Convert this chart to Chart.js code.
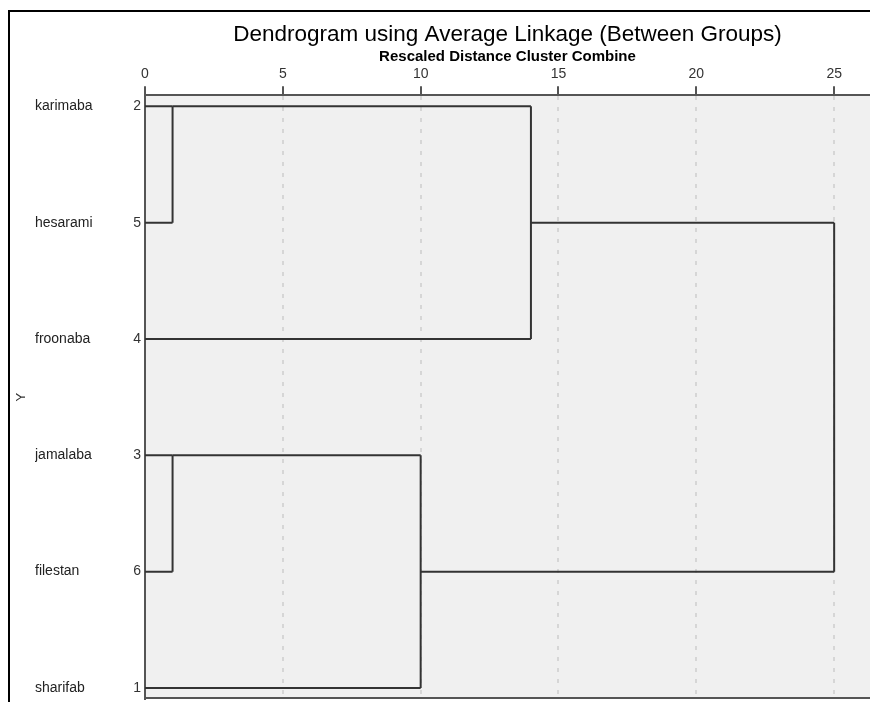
<!DOCTYPE html>
<html><head><meta charset="utf-8">
<script src="https://cdn.jsdelivr.net/npm/chart.js@4/dist/chart.umd.min.js"></script>
<style>html,body{margin:0;padding:0;background:#fff;} canvas{display:block;}</style>
</head><body>
<canvas id="c" width="870" height="702"></canvas>
<script>
// Leaves in dendrogram order (top to bottom)
const caseNames = ['karimaba', 'hesarami', 'froonaba', 'jamalaba', 'filestan', 'sharifab'];
const caseNumbers = ['2', '5', '4', '3', '6', '1'];
// Agglomeration steps: clusters 0..5 are leaves, step k creates cluster 6+k
const mergeA = [0, 3, 6, 7, 8];
const mergeB = [1, 4, 2, 5, 9];
const mergeDist = [1, 1, 14, 10, 25];
const xTickValues = [0, 5, 10, 15, 20, 25];

const titleText = 'Dendrogram using Average Linkage (Between Groups)';
const subtitleText = 'Rescaled Distance Cluster Combine';
const yTitleText = 'Y';

// build node info
const nodes = caseNames.map((n, i) => ({members: [i], h: 0}));
mergeA.forEach((a, k) => {
  const b = mergeB[k];
  nodes.push({members: nodes[a].members.concat(nodes[b].members), h: mergeDist[k]});
});
const rowOf = (id) => {
  const m = nodes[id].members;
  return Math.floor(m.reduce((s, v) => s + v, 0) / m.length);
};
const segments = [];
mergeA.forEach((a, k) => {
  const b = mergeB[k];
  const d = mergeDist[k];
  const ra = rowOf(a), rb = rowOf(b);
  segments.push([{x: nodes[a].h, y: ra}, {x: d, y: ra}]);
  segments.push([{x: nodes[b].h, y: rb}, {x: d, y: rb}]);
  segments.push([{x: d, y: ra}, {x: d, y: rb}]);
});

const datasets = segments.map(seg => ({
  data: seg, showLine: true, borderColor: '#333333', borderWidth: 2,
  pointRadius: 0, pointHoverRadius: 0, fill: false, tension: 0
}));

const FONT = "'Liberation Sans', Arial, sans-serif";
const rowTicks = caseNames.map((n, i) => ({value: i}));
const noPad = (s) => { s.paddingTop = 0; s.paddingBottom = 0; s.paddingLeft = 0; s.paddingRight = 0; };

const framePlugin = {
  id: 'frame',
  beforeDraw(chart) {
    const {ctx, chartArea: a} = chart;
    ctx.save();
    ctx.fillStyle = '#ffffff';
    ctx.fillRect(0, 0, chart.width, chart.height);
    ctx.fillStyle = '#f0f0f0';
    ctx.fillRect(a.left, a.top, a.right - a.left, a.bottom - a.top);
    ctx.restore();
  },
  afterDraw(chart) {
    const {ctx, chartArea: a} = chart;
    ctx.save();
    ctx.strokeStyle = '#000';
    ctx.lineWidth = 2;
    ctx.beginPath();
    ctx.moveTo(9, chart.height);
    ctx.lineTo(9, 11);
    ctx.lineTo(chart.width, 11);
    ctx.stroke();
    ctx.strokeStyle = '#555';
    ctx.lineWidth = 2;
    ctx.beginPath();
    ctx.moveTo(a.left, a.bottom - 1);
    ctx.lineTo(a.right, a.bottom - 1);
    ctx.stroke();
    ctx.restore();
  }
};

new Chart(document.getElementById('c'), {
  type: 'scatter',
  data: {datasets},
  plugins: [framePlugin],
  options: {
    responsive: false,
    animation: false,
    devicePixelRatio: 1,
    layout: {padding: {top: 11, left: 10, right: 0, bottom: 3}},
    plugins: {
      legend: {display: false},
      tooltip: {enabled: false},
      title: {
        display: true, text: titleText, fullSize: false, color: '#000',
        font: {family: FONT, size: 22.5, weight: 'normal', lineHeight: 1.2},
        padding: {top: 10, bottom: 0}
      },
      subtitle: {
        display: true, text: subtitleText, fullSize: false, color: '#000',
        font: {family: FONT, size: 15, weight: 'bold', lineHeight: 1.1},
        padding: {top: 1, bottom: 0}
      }
    },
    scales: {
      x: {
        type: 'linear', position: 'top', min: 0, max: 26.3,
        afterBuildTicks: (s) => { s.ticks = xTickValues.map(v => ({value: v})); },
        afterFit: (s) => { s.height = 29.8; noPad(s); },
        ticks: {color: '#333', font: {family: FONT, size: 14}, padding: 4, maxRotation: 0},
        grid: {
          color: (c) => (c.tick && c.tick.value === 0) ? 'rgba(0,0,0,0)' : '#d6d6d6',
          lineWidth: 2, drawTicks: true, tickLength: 9,
          tickColor: '#555', tickWidth: 2, tickBorderDash: []
        },
        border: {display: true, color: '#555', width: 2, dash: [4, 7]}
      },
      y: {
        type: 'linear', position: 'left', reverse: true, min: -0.095, max: 5.095, weight: 0,
        afterBuildTicks: (s) => { s.ticks = rowTicks.map(t => ({value: t.value})); },
        afterFit: (s) => { s.width = 20; noPad(s); },
        ticks: {color: '#333', font: {family: FONT, size: 14}, padding: 4,
          callback: (v) => caseNumbers[v]},
        grid: {display: false, drawTicks: false, tickLength: 0},
        border: {display: true, color: '#555', width: 2}
      },
      yNames: {
        type: 'linear', position: 'left', reverse: true, min: -0.095, max: 5.095, weight: 1,
        afterBuildTicks: (s) => { s.ticks = rowTicks.map(t => ({value: t.value})); },
        afterFit: (s) => { s.width = 90; noPad(s); },
        ticks: {color: '#222', font: {family: FONT, size: 14}, padding: 0, crossAlign: 'far',
          callback: (v) => caseNames[v]},
        grid: {display: false, drawTicks: false, tickLength: 0},
        border: {display: false}
      },
      yTitle: {
        type: 'linear', position: 'left', min: 0, max: 1, weight: 2,
        afterFit: (s) => { s.width = 25; noPad(s); },
        ticks: {display: false},
        grid: {display: false, drawTicks: false},
        border: {display: false},
        title: {display: true, text: yTitleText, color: '#333',
          font: {family: FONT, size: 13}, padding: {top: 4, bottom: 4}}
      }
    }
  }
});
</script>
</body></html>
